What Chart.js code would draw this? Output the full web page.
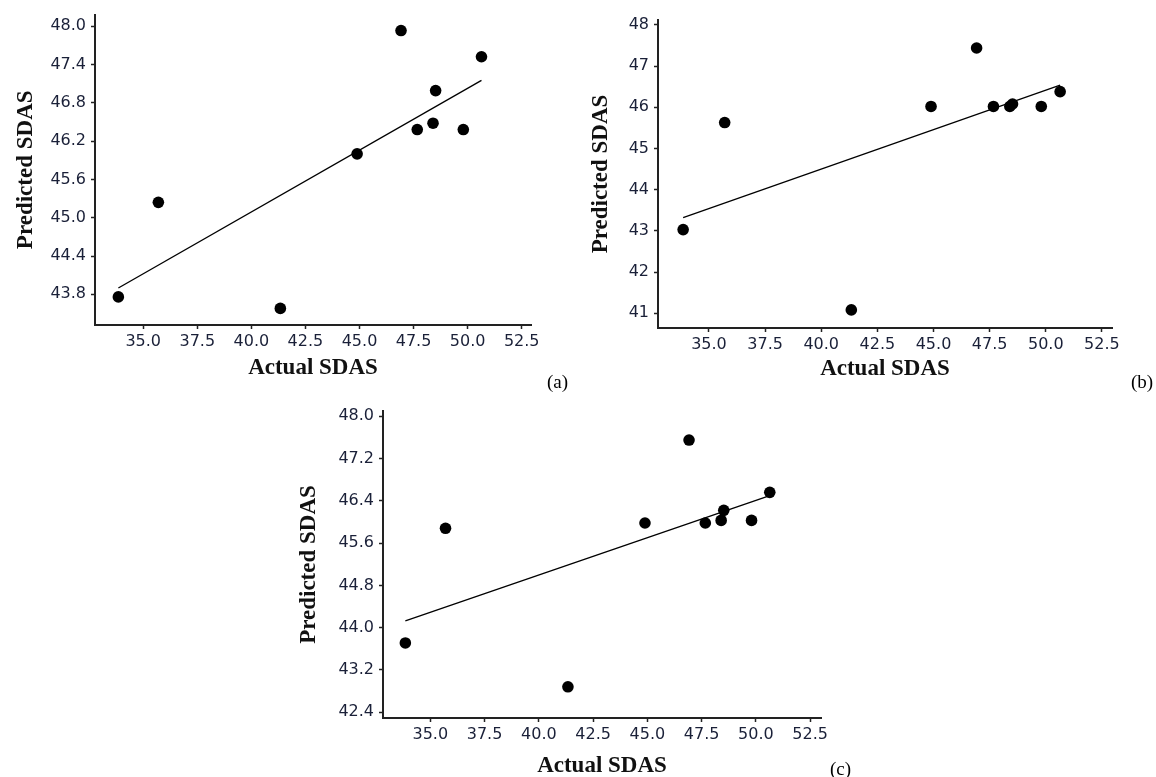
<!DOCTYPE html>
<html>
<head>
<meta charset="utf-8">
<script src="https://cdn.jsdelivr.net/npm/chart.js@4.4.1/dist/chart.umd.min.js"></script>
<style>
  body { margin: 0; background: #fff; }
  #wrap { position: relative; width: 1156px; height: 777px; overflow: hidden; }
  canvas { position: absolute; }
  .tag { position: absolute; font-family: 'Liberation Serif', serif; font-size: 19px; color: #000; }
</style>
</head>
<body>
<div id="wrap">
  <canvas id="chartA" width="580" height="390" style="left:0px;top:0px"></canvas>
  <canvas id="chartB" width="586" height="390" style="left:570px;top:0px"></canvas>
  <canvas id="chartC" width="560" height="390" style="left:290px;top:390px"></canvas>
  <div class="tag" style="left:547px;top:371px">(a)</div>
  <div class="tag" style="left:1131px;top:371px">(b)</div>
  <div class="tag" style="left:830px;top:758px">(c)</div>
</div>
<script>
// actual SDAS (same for all three models)
const actualSdas = [33.85, 35.70, 41.34, 44.89, 46.92, 47.67, 48.40, 48.52, 49.80, 50.64];

// predicted SDAS per panel
const predictedA = [43.76, 45.24, 43.58, 46.00, 47.93, 46.38, 46.48, 46.99, 46.38, 47.52];
const predictedB = [43.03, 45.63, 41.08, 46.02, 47.44, 46.02, 46.02, 46.08, 46.02, 46.38];
const predictedC = [43.71, 45.88, 42.88, 45.98, 47.55, 45.98, 46.03, 46.22, 46.03, 46.56];

// fitted line end points
const trendX = [33.85, 50.64];
const trendA = [43.90, 47.15];
const trendB = [43.32, 46.54];
const trendC = [44.13, 46.50];

// tick labels
const xTicks = [35.0, 37.5, 40.0, 42.5, 45.0, 47.5, 50.0, 52.5];
const yTicksA = [43.8, 44.4, 45.0, 45.6, 46.2, 46.8, 47.4, 48.0];
const yTicksB = [41, 42, 43, 44, 45, 46, 47, 48];
const yTicksC = [42.4, 43.2, 44.0, 44.8, 45.6, 46.4, 47.2, 48.0];

const tickColor = '#1a2038';
const axisColor = '#222';

function makePanel(id, predicted, trend, yTicks, decimals, box) {
  const points = actualSdas.map((x, i) => ({x: x, y: predicted[i]}));
  const line = trendX.map((x, i) => ({x: x, y: trend[i]}));
  return new Chart(document.getElementById(id), {
    type: 'scatter',
    data: {
      datasets: [
        {
          data: points,
          pointRadius: 5.8,
          pointBackgroundColor: '#000',
          pointBorderWidth: 0
        },
        {
          data: line,
          showLine: true,
          borderColor: '#000',
          borderWidth: 1.3,
          pointRadius: 0
        }
      ]
    },
    options: {
      responsive: false,
      animation: false,
      layout: { padding: { top: box.top, right: box.right, left: 0, bottom: 0 } },
      plugins: { legend: { display: false }, tooltip: { enabled: false } },
      scales: {
        x: {
          type: 'linear',
          min: box.xmin,
          max: box.xmax,
          afterFit: s => { s.height = box.xh; },
          afterBuildTicks: s => { s.ticks = xTicks.map(v => ({value: v})); },
          ticks: {
            autoSkip: false,
            maxRotation: 0,
            padding: 3,
            color: tickColor,
            font: { family: 'DejaVu Sans', size: 16 },
            callback: v => Number(v).toFixed(1)
          },
          grid: { drawOnChartArea: false, drawTicks: true, tickLength: 4, tickWidth: 1.5, tickColor: axisColor },
          border: { color: axisColor, width: 2 },
          title: {
            display: true,
            text: 'Actual SDAS',
            color: '#111',
            font: { family: 'Liberation Serif', weight: 'bold', size: 23 },
            padding: { top: 0, bottom: box.xtb }
          }
        },
        y: {
          type: 'linear',
          min: box.ymin,
          max: box.ymax,
          afterFit: s => { s.width = box.yw; },
          afterBuildTicks: s => { s.ticks = yTicks.map(v => ({value: v})); },
          ticks: {
            autoSkip: false,
            padding: 5,
            color: tickColor,
            font: { family: 'DejaVu Sans', size: 16 },
            callback: v => Number(v).toFixed(decimals)
          },
          grid: { drawOnChartArea: false, drawTicks: true, tickLength: 4, tickWidth: 1.5, tickColor: axisColor },
          border: { color: axisColor, width: 2 },
          title: {
            display: true,
            text: 'Predicted SDAS',
            color: '#111',
            font: { family: 'Liberation Serif', weight: 'bold', size: 23 },
            padding: { top: box.ytp, bottom: 0 }
          }
        }
      }
    }
  });
}

makePanel('chartA', predictedA, trendA, yTicksA, 1,
  { top: 13, right: 49, xh: 65, yw: 95, xtb: 8, ytp: 12, xmin: 32.77, xmax: 52.93, ymin: 43.32, ymax: 48.18 });
makePanel('chartB', predictedB, trendB, yTicksB, 0,
  { top: 20, right: 44, xh: 62, yw: 88, xtb: 7, ytp: 17, xmin: 32.73, xmax: 52.95, ymin: 40.64, ymax: 48.12 });
makePanel('chartC', predictedC, trendC, yTicksC, 1,
  { top: 21, right: 29, xh: 62, yw: 93, xtb: 0, ytp: 5, xmin: 32.82, xmax: 53.0, ymin: 42.29, ymax: 48.1 });
</script>
</body>
</html>
